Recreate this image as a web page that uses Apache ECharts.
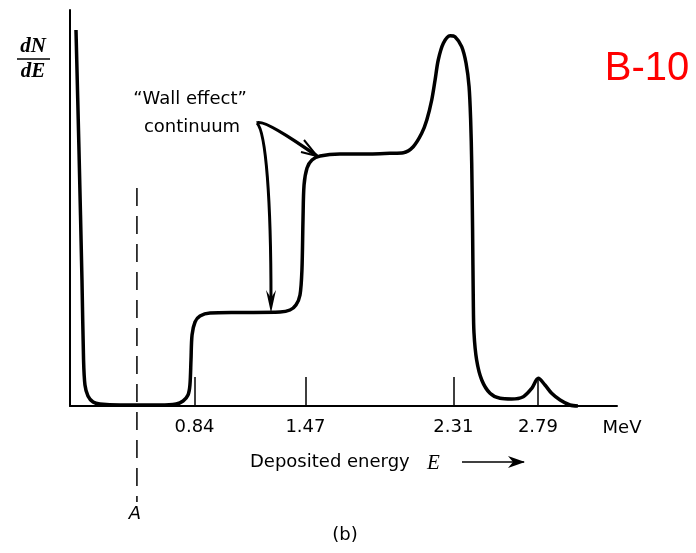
<!DOCTYPE html>
<html>
<head>
<meta charset="utf-8">
<script src="https://cdn.jsdelivr.net/npm/echarts@6/dist/echarts.min.js"></script>
<style>
  html, body { margin: 0; padding: 0; background: #fff; }
  #main { width: 696px; height: 553px; }
</style>
</head>
<body>
<div id="main"></div>
<script>
// B-10 proportional counter spectrum (schematic)
const energy = [
  0.167, 0.184, 0.201, 0.210, 0.218, 0.235, 0.264, 0.303, 0.417, 0.644,
  0.735, 0.775, 0.803, 0.814, 0.820, 0.826, 0.843, 0.871, 0.928, 1.098,
  1.326, 1.382, 1.416, 1.439, 1.450, 1.456, 1.462, 1.479, 1.507, 1.553,
  1.666, 1.837, 1.950, 2.026, 2.082, 2.130, 2.159, 2.187, 2.206, 2.224,
  2.253, 2.291, 2.319, 2.357, 2.382, 2.399, 2.408, 2.414, 2.419, 2.423,
  2.427, 2.442, 2.471, 2.518, 2.575, 2.641, 2.707, 2.755, 2.792, 2.830,
  2.868, 2.916, 2.972, 3.017
];
const counts = [
  376, 256, 126, 46, 21, 10, 4, 2, 1, 1,
  2, 5, 11, 21, 46, 71, 84, 90, 93, 93.5,
  94, 96, 101, 111, 136, 186, 221, 238, 246, 250,
  252, 252, 252.7, 253.3, 259.3, 272.7, 286, 306, 326, 346,
  362.7, 370.3, 369.3, 359.3, 342.7, 319.3, 286, 243, 176, 106,
  73, 46, 26, 12.7, 7.7, 7, 9.3, 17.7, 27.7, 21,
  12.7, 6, 1, 0
];
const tickValues = [0.84, 1.47, 2.31, 2.79];
const aLevel = 0.513;

const chart = echarts.init(document.getElementById('main'));

const sans = 'DejaVu Sans';
const serif = 'Liberation Serif';

chart.setOption({
  animation: false,
  grid: { left: 70, top: 10, right: 79, bottom: 147 },
  xAxis: {
    type: 'value',
    min: 0.133,
    max: 3.239,
    axisLine: { lineStyle: { color: '#000', width: 2 } },
    axisTick: {
      customValues: tickValues,
      inside: true,
      length: 29,
      lineStyle: { color: '#000', width: 1.5 }
    },
    axisLabel: {
      customValues: tickValues,
      formatter: v => v.toFixed(2),
      fontFamily: sans,
      fontSize: 18,
      color: '#000',
      margin: 12
    },
    splitLine: { show: false }
  },
  yAxis: {
    type: 'value',
    min: 0,
    max: 396,
    axisLine: { show: true, lineStyle: { color: '#000', width: 2 } },
    axisTick: { show: false },
    axisLabel: { show: false },
    splitLine: { show: false }
  },
  series: [{
    type: 'line',
    data: energy.map((e, i) => [e, counts[i]]),
    smooth: 0.3,
    showSymbol: false,
    clip: false,
    lineStyle: { color: '#000', width: 3.5 }
  }]
});

const ax = chart.convertToPixel({ xAxisIndex: 0 }, aLevel);

chart.setOption({
  graphic: [
    // dN/dE
    { type: 'text', x: 33, y: 47, style: { text: 'dN', font: 'italic bold 21px ' + serif, fill: '#000', align: 'center', verticalAlign: 'middle' } },
    { type: 'line', shape: { x1: 17, y1: 59, x2: 50, y2: 59 }, style: { stroke: '#000', lineWidth: 1.5 } },
    { type: 'text', x: 33, y: 72, style: { text: 'dE', font: 'italic bold 21px ' + serif, fill: '#000', align: 'center', verticalAlign: 'middle' } },
    // B-10
    { type: 'text', x: 647, y: 69, style: { text: 'B-10', font: '40px Liberation Sans', fill: '#ff0000', align: 'center', verticalAlign: 'middle' } },
    // wall effect note
    { type: 'text', x: 190, y: 99, style: { text: '\u201CWall effect\u201D', font: '18px ' + sans, fill: '#000', align: 'center', verticalAlign: 'middle' } },
    { type: 'text', x: 192, y: 127, style: { text: 'continuum', font: '18px ' + sans, fill: '#000', align: 'center', verticalAlign: 'middle' } },
    { type: 'bezierCurve', shape: { x1: 257, y1: 123, cpx1: 262, cpy1: 119, x2: 317, y2: 156, cpx2: 290, cpy2: 137 }, style: { stroke: '#000', lineWidth: 3.5, fill: null } },
    { type: 'polyline', shape: { points: [[304, 140], [317, 156], [301, 152]] }, style: { stroke: '#000', lineWidth: 2, fill: null } },
    { type: 'bezierCurve', shape: { x1: 257, y1: 123, cpx1: 266, cpy1: 132, x2: 271, y2: 300, cpx2: 271, cpy2: 200 }, style: { stroke: '#000', lineWidth: 3, fill: null } },
    { type: 'polygon', shape: { points: [[266, 290], [271, 313], [276, 290], [271, 298]] }, style: { fill: '#000' } },
    // discriminator level A
    { type: 'line', shape: { x1: ax, y1: 188, x2: ax, y2: 502 }, style: { stroke: '#000', lineWidth: 1.5, lineDash: [18, 10] } },
    { type: 'text', x: ax - 2, y: 514, style: { text: 'A', font: 'italic 18px ' + sans, fill: '#000', align: 'center', verticalAlign: 'middle' } },
    // units & axis title
    { type: 'text', x: 622, y: 428, style: { text: 'MeV', font: '18px ' + sans, fill: '#000', align: 'center', verticalAlign: 'middle' } },
    { type: 'text', x: 250, y: 462, style: { text: 'Deposited energy', font: '18px ' + sans, fill: '#000', verticalAlign: 'middle' } },
    { type: 'text', x: 427, y: 463, style: { text: 'E', font: 'italic 21px ' + serif, fill: '#000', verticalAlign: 'middle' } },
    { type: 'line', shape: { x1: 462, y1: 462, x2: 524, y2: 462 }, style: { stroke: '#000', lineWidth: 1.5 } },
    { type: 'polygon', shape: { points: [[508, 456], [525, 462], [508, 468], [513, 462]] }, style: { fill: '#000' } },
    { type: 'text', x: 345, y: 535, style: { text: '(b)', font: '18px ' + sans, fill: '#000', align: 'center', verticalAlign: 'middle' } }
  ]
});
</script>
</body>
</html>
